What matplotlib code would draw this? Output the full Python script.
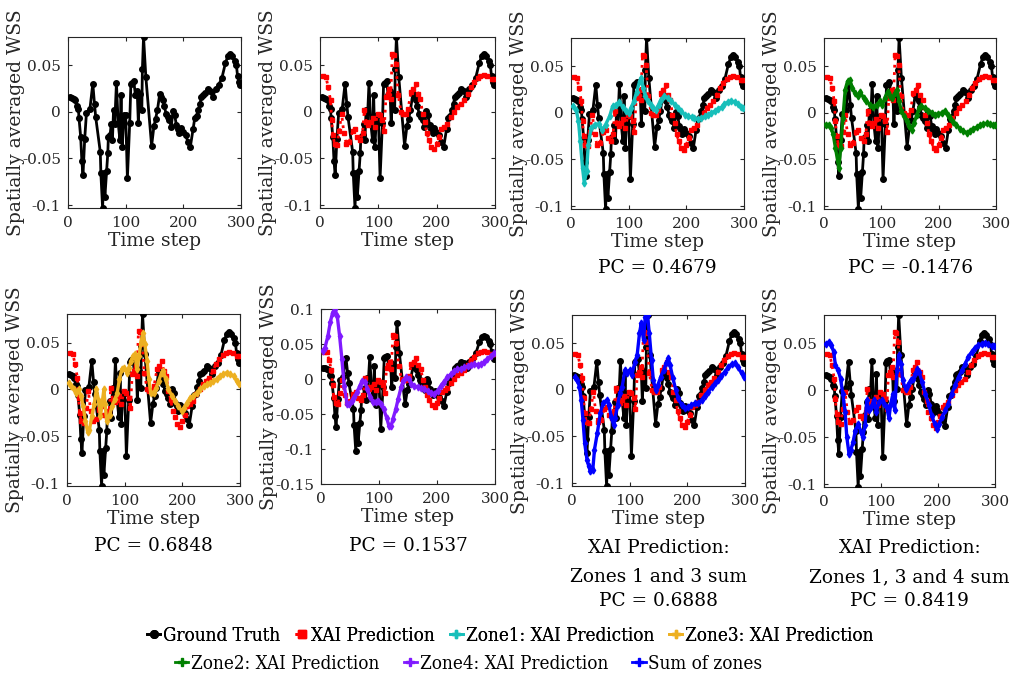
import matplotlib
matplotlib.use("Agg")
import matplotlib.pyplot as plt
from matplotlib.lines import Line2D

plt.rcParams['font.family'] = ['DejaVu Serif']
plt.rcParams['axes.unicode_minus'] = False

# ---------------- data ----------------
gt_t = [3, 7, 10, 13, 15, 18, 19, 22, 24, 26, 29, 32, 38, 43, 46, 48, 56, 57, 60, 62,
        64, 67, 69, 70, 73, 75, 77, 79, 81, 84, 87, 90, 92, 94, 97, 100, 103, 107, 109, 111,
        114, 117, 120, 122, 124, 128, 129, 131, 135, 145, 149, 152, 155, 159, 162, 165, 167, 170, 173, 176,
        179, 182, 185, 188, 190, 193, 196, 199, 204, 208, 212, 217, 220, 223, 226, 229, 231, 234, 238, 242,
        246, 251, 256, 261, 267, 273, 277, 281, 285, 289, 292, 294, 297, 299]
gt_v = [0.016, 0.0154, 0.0143, 0.0125, 0.006, 0.0036, -0.006, -0.027, -0.0525, -0.068,
        -0.0286, -0.001, 0.003, 0.0304, 0.0082, -0.0054, -0.043, -0.066, -0.1032, -0.066,
        -0.091, -0.063, -0.0446, -0.027, -0.025, -0.0125, -0.0304, 0.0018, -0.0125, 0.031,
        -0.0118, -0.030, 0.0179, -0.0375, -0.0036, -0.0036, -0.071, -0.0118, 0.0296, 0.031,
        0.0329, 0.018, 0.0225, -0.0118, 0.0196, 0.0018, 0.046, 0.0805, 0.0375, -0.0364,
        -0.0154, -0.0071, 0.0018, 0.019, 0.016, 0.0125, 0.006, -0.0018, -0.0054, -0.009,
        -0.016, 0.0007, -0.0036, -0.0143, -0.018, -0.023, -0.0168, -0.0214, -0.025, -0.032,
        -0.038, -0.018, -0.006, -0.0046, 0.0025, 0.0089, 0.016, 0.018, 0.020, 0.025,
        0.0225, 0.016, 0.025, 0.0286, 0.0368, 0.0525, 0.0596, 0.0618, 0.0596, 0.055,
        0.050, 0.039, 0.032, 0.0286]

xai_t = [5, 10, 14, 18, 20, 22, 25, 29, 33, 37, 41, 45, 50, 56, 60, 64, 69, 73, 76, 79,
         83, 87, 91, 94, 99, 103, 107, 110, 113, 116, 119, 121, 124, 127, 130, 134, 139, 143, 147, 151,
         156, 160, 164, 168, 172, 176, 180, 183, 187, 191, 196, 200, 204, 208, 213, 218, 224, 230, 235, 241,
         247, 253, 258, 264, 270, 275, 281, 287, 294, 298]
xai_v = [0.039, 0.038, 0.027, 0.0125, -0.009, -0.025, -0.034, -0.036, -0.020, -0.0018,
         -0.023, -0.034, -0.032, -0.021, -0.018, -0.027, -0.030, -0.023, 0.0018, -0.011,
         -0.014, -0.011, -0.007, -0.016, -0.0018, -0.0036, -0.009, -0.020, 0.016, 0.0196,
         0.025, 0.0143, 0.0625, 0.061, 0.052, 0.018, 0.0, -0.0018, -0.0018, 0.0036,
         0.0214, 0.025, 0.030, 0.0196, 0.0143, -0.0018, -0.011, -0.023, -0.030, -0.0375,
         -0.040, -0.034, -0.027, -0.018, -0.016, -0.0125, -0.0054, 0.0, 0.0054, 0.009,
         0.0125, 0.0196, 0.027, 0.032, 0.0368, 0.039, 0.040, 0.039, 0.0357, 0.0357]

z1_t = [3, 9, 13, 16, 20, 23, 27, 30, 35, 41, 48, 54, 60, 67, 72, 78, 84, 90, 96, 100,
        104, 109, 114, 119, 122, 125, 129, 133, 138, 142, 147, 152, 156, 162, 168, 174, 180, 185, 191, 197,
        203, 209, 214, 220, 226, 232, 237, 243, 249, 255, 261, 266, 272, 278, 284, 290, 295, 299]
z1_v = [0.007, 0.0036, -0.009, -0.030, -0.059, -0.075, -0.0625, -0.034, -0.016, -0.0125,
        -0.0118, -0.018, -0.0125, -0.0036, 0.007, 0.009, 0.0114, 0.006, 0.0018, 0.0,
        0.0054, 0.0125, 0.023, 0.034, 0.038, 0.027, 0.018, 0.0125, 0.009, 0.0054,
        0.0036, 0.009, 0.0143, 0.018, 0.016, 0.0125, 0.009, 0.0054, 0.0018, -0.0018,
        -0.0036, -0.0046, -0.0054, -0.007, -0.0054, -0.0036, -0.0018, 0.0, 0.0018, 0.0046,
        0.006, 0.0096, 0.0118, 0.013, 0.0118, 0.0096, 0.006, 0.0054]

z2_t = [3, 8, 12, 16, 20, 24, 26, 29, 33, 37, 41, 45, 49, 54, 59, 63, 69, 74, 80, 86,
        92, 98, 102, 106, 111, 115, 119, 124, 127, 131, 135, 140, 145, 149, 153, 157, 162, 166, 170, 176,
        182, 188, 194, 199, 205, 211, 216, 220, 225, 231, 237, 243, 249, 255, 260, 266, 272, 278, 284, 289,
        295, 298]
z2_v = [-0.0125, -0.013, -0.016, -0.023, -0.0375, -0.052, -0.059, -0.0375, -0.0054, 0.025,
        0.034, 0.0357, 0.027, 0.0214, 0.018, 0.023, 0.016, 0.0125, 0.009, 0.006,
        0.009, 0.0125, 0.009, 0.016, 0.023, 0.018, 0.016, 0.0214, 0.025, 0.0125,
        0.0018, -0.0036, -0.009, -0.014, -0.018, -0.011, -0.0018, 0.0054, 0.007, 0.0054,
        0.0025, 0.0, -0.0018, -0.001, 0.0, 0.0025, -0.0018, -0.0054, -0.0096, -0.013,
        -0.0168, -0.0196, -0.0214, -0.019, -0.0168, -0.0154, -0.013, -0.0118, -0.011, -0.0118,
        -0.013, -0.0125]

z3_t = [3, 7, 12, 16, 20, 24, 28, 32, 36, 39, 43, 47, 51, 55, 58, 61, 64, 66, 69, 74,
        78, 83, 87, 91, 95, 99, 104, 107, 111, 114, 118, 121, 125, 128, 132, 135, 139, 142, 145, 150,
        155, 159, 164, 167, 171, 176, 182, 188, 193, 199, 203, 208, 214, 219, 225, 231, 237, 242, 248, 254,
        260, 265, 271, 277, 283, 289, 294, 299]
z3_v = [0.007, 0.0036, 0.0, -0.0036, 0.0, -0.007, -0.018, -0.034, -0.046, -0.043,
        -0.0286, -0.016, 0.0, -0.0125, -0.0286, -0.0143, 0.0, -0.016, -0.034, -0.027,
        -0.018, -0.0107, -0.0036, 0.0107, 0.0214, 0.023, 0.018, 0.023, 0.030, 0.0357,
        0.0375, 0.0214, 0.0357, 0.050, 0.0607, 0.048, 0.030, 0.0107, -0.0036, -0.0036,
        0.0018, 0.009, 0.018, 0.0196, 0.0107, 0.0, -0.007, -0.0125, -0.018, -0.023,
        -0.0196, -0.0143, -0.009, -0.007, -0.0036, 0.0, 0.0036, 0.0054, 0.007, 0.009,
        0.0114, 0.0143, 0.016, 0.018, 0.016, 0.0143, 0.009, 0.0054]

z4_t = [3, 7, 12, 16, 20, 24, 28, 32, 36, 40, 45, 49, 53, 57, 62, 67, 71, 76, 80, 85,
        90, 94, 99, 103, 108, 113, 117, 121, 124, 129, 133, 138, 142, 147, 152, 156, 161, 167, 172, 178,
        184, 189, 195, 201, 207, 212, 218, 224, 230, 235, 241, 247, 253, 258, 264, 270, 276, 281, 287, 293,
        299]
z4_v = [0.0405, 0.045, 0.062, 0.081, 0.095, 0.100, 0.090, 0.062, 0.0286, -0.0095,
        -0.0357, -0.0357, -0.031, -0.026, -0.019, -0.0095, -0.0024, -0.0048, -0.0143, -0.026,
        -0.033, -0.033, -0.031, -0.0357, -0.043, -0.055, -0.0667, -0.0667, -0.057, -0.043,
        -0.0286, -0.012, -0.0024, 0.0024, 0.0, -0.007, -0.0095, -0.012, -0.0133, -0.0143,
        -0.0167, -0.020, -0.0214, -0.0167, -0.0095, -0.0038, 0.0024, 0.007, 0.012, 0.0143,
        0.0143, 0.0167, 0.018, 0.020, 0.0214, 0.020, 0.0214, 0.0238, 0.0286, 0.0333,
        0.0367]

s13_t = [5, 9, 13, 16, 19, 22, 26, 29, 32, 36, 39, 44, 49, 54, 60, 64, 68, 72, 75, 79,
         83, 87, 92, 96, 100, 104, 109, 113, 117, 120, 124, 127, 131, 134, 138, 141, 145, 149, 154, 159,
         163, 167, 170, 175, 180, 184, 190, 196, 202, 207, 213, 219, 225, 230, 236, 242, 248, 254, 259, 265,
         271, 277, 283, 288, 294, 299]
s13_v = [0.0136, 0.0107, 0.0036, -0.0107, -0.032, -0.057, -0.075, -0.082, -0.0875, -0.086,
         -0.064, -0.046, -0.025, -0.0143, -0.0107, -0.016, -0.0286, -0.0375, -0.030, -0.016,
         -0.0036, 0.0036, 0.0214, 0.018, 0.0214, 0.016, 0.030, 0.0375, 0.0607, 0.0714,
         0.0536, 0.0786, 0.080, 0.0607, 0.032, 0.0107, 0.0, 0.0054, 0.0143, 0.0214,
         0.0286, 0.034, 0.0268, 0.0125, 0.0, -0.009, -0.016, -0.0196, -0.0186, -0.016,
         -0.0143, -0.0143, -0.0107, -0.0064, -0.0018, 0.0029, 0.007, 0.0107, 0.015, 0.0196,
         0.0243, 0.028, 0.0286, 0.0243, 0.018, 0.0136]

s134_t = [4, 9, 13, 17, 20, 25, 29, 33, 37, 40, 44, 47, 51, 55, 60, 65, 68, 72, 75, 79,
          83, 87, 92, 96, 101, 105, 110, 114, 117, 121, 124, 128, 131, 135, 138, 143, 147, 152, 157, 160,
          164, 167, 172, 178, 184, 189, 194, 198, 202, 207, 213, 218, 224, 230, 236, 242, 248, 253, 259, 265,
          271, 277, 283, 288, 294, 299]
s134_v = [0.050, 0.052, 0.048, 0.041, 0.027, 0.0214, 0.0125, -0.0036, -0.023, -0.050,
          -0.068, -0.064, -0.055, -0.043, -0.0357, -0.0446, -0.050, -0.0375, -0.0107, -0.0214,
          -0.018, -0.0107, -0.023, -0.0125, -0.0107, -0.0143, -0.018, -0.030, -0.0143, -0.0036,
          -0.0214, 0.0214, 0.0375, 0.0286, 0.0107, 0.0018, 0.0054, 0.0107, 0.0125, 0.018,
          0.023, 0.0196, 0.009, -0.0036, -0.016, -0.027, -0.0357, -0.041, -0.0357, -0.0286,
          -0.0214, -0.0143, -0.0036, 0.0054, 0.0143, 0.0214, 0.0286, 0.0357, 0.041, 0.0457,
          0.048, 0.050, 0.0507, 0.0493, 0.047, 0.047]

legend_labels = ["Ground Truth", "XAI Prediction", "Zone1: XAI Prediction", "Zone3: XAI Prediction",
                 "Zone2: XAI Prediction", "Zone4: XAI Prediction", "Sum of zones"]
captions = [None, None, ["PC = 0.4679"], ["PC = -0.1476"],
            ["PC = 0.6848"], ["PC = 0.1537"],
            ["XAI Prediction:", "Zones 1 and 3 sum", "PC = 0.6888"],
            ["XAI Prediction:", "Zones 1, 3 and 4 sum", "PC = 0.8419"]]

C_GT = 'black'
C_XAI = 'red'
C_Z1 = (0.09, 0.75, 0.73)
C_Z2 = (0.0, 0.5, 0.0)
C_Z3 = (0.93, 0.69, 0.13)
C_Z4 = (0.5, 0.1, 1.0)
C_SUM = (0.0, 0.0, 1.0)

# ---------------- figure ----------------
W, H = 1016, 680
fig = plt.figure(figsize=(W / 100, H / 100), dpi=100)

# axes rectangles in pixels: left, top, right, bottom
rects = [(68, 37, 241, 208), (320, 37, 495, 208), (571, 38, 744, 209), (824, 38, 996, 209),
         (67, 314, 240, 486), (321, 309, 495, 484), (572, 315, 745, 486), (824, 315, 995, 487)]

zone_series = [None, None, (z1_t, z1_v, C_Z1), (z2_t, z2_v, C_Z2), (z3_t, z3_v, C_Z3),
               (z4_t, z4_v, C_Z4), (s13_t, s13_v, C_SUM), (s134_t, s134_v, C_SUM)]

AX_COL = (0.15, 0.15, 0.15)

for i, (l, t, r, b) in enumerate(rects):
    ax = fig.add_axes([l / W, 1 - b / H, (r - l) / W, (b - t) / H])
    ax.plot(gt_t, gt_v, '-o', color=C_GT, lw=2.0, ms=4.0, zorder=3)
    if i >= 1:
        ax.plot(xai_t, xai_v, ':s', color=C_XAI, lw=2.0, ms=3.3, zorder=4)
    zs = zone_series[i]
    if zs is not None:
        ax.plot(zs[0], zs[1], '-d', color=zs[2], lw=2.4, ms=3.5, zorder=5)
    ax.set_xlim(0, 300)
    ax.set_xticks([0, 100, 200, 300])
    if i == 5:
        ax.set_ylim(-0.15, 0.1)
        ax.set_yticks([-0.15, -0.1, -0.05, 0, 0.05, 0.1])
        ax.set_yticklabels(['-0.15', '-0.1', '-0.05', '0', '0.05', '0.1'])
    else:
        ax.set_ylim(-0.1032, 0.0805)
        ax.set_yticks([-0.1, -0.05, 0, 0.05])
        ax.set_yticklabels(['-0.1', '-0.05', '0', '0.05'])
    ax.set_xticklabels(['0', '100', '200', '300'])
    ax.tick_params(direction='in', top=True, right=True, length=3, width=0.8,
                   labelsize=11, colors=AX_COL, labelcolor=AX_COL)
    ax.tick_params(axis='x', pad=6)
    ax.tick_params(axis='y', pad=5)
    for sp in ax.spines.values():
        sp.set_color(AX_COL)
        sp.set_linewidth(0.8)
    ax.set_xlabel('Time step', fontsize=13.5, color=AX_COL, labelpad=1)
    ax.set_ylabel('Spatially averaged WSS', fontsize=13.5, color=AX_COL, labelpad=-2)
    cap = captions[i]
    if cap:
        cx = (l + r) / 2 / W
        y0 = 268 if i < 4 else 546
        if len(cap) == 1:
            fig.text(cx, 1 - y0 / H, cap[0], ha='center', va='center', fontsize=13.3, color='black')
        else:
            ys = [548, 577, 601]
            for txt, yy in zip(cap, ys):
                fig.text(cx, 1 - yy / H, txt, ha='center', va='center', fontsize=13.3, color='black')

# ---------------- legend ----------------
def handle(color, marker, ls='-'):
    return Line2D([0], [0], color=color, marker=marker, ls=ls, lw=2, ms=5.5)

h_all = [handle(C_GT, 'o'), handle(C_XAI, 's', ':'), handle(C_Z1, 'P'), handle(C_Z3, 'P'),
         handle(C_Z2, 'P'), handle(C_Z4, 'P'), handle(C_SUM, 'P')]
leg_font = {'family': ['DejaVu Serif'], 'stretch': 'condensed', 'size': 13.5}

leg1 = fig.legend(h_all[:4], legend_labels[:4], ncol=4, loc='center left',
                  bbox_to_anchor=(147 / W, 1 - 636 / H), frameon=False, prop=leg_font,
                  handlelength=0.7, handletextpad=0.15, columnspacing=0.8, borderpad=0, borderaxespad=0)
leg2 = fig.legend(h_all[4:], legend_labels[4:], ncol=3, loc='center left',
                  bbox_to_anchor=(175 / W, 1 - 664 / H), frameon=False, prop=leg_font,
                  handlelength=0.7, handletextpad=0.15, columnspacing=1.3, borderpad=0, borderaxespad=0)
fig.add_artist(leg1)

fig.savefig('out.png', dpi=100)
